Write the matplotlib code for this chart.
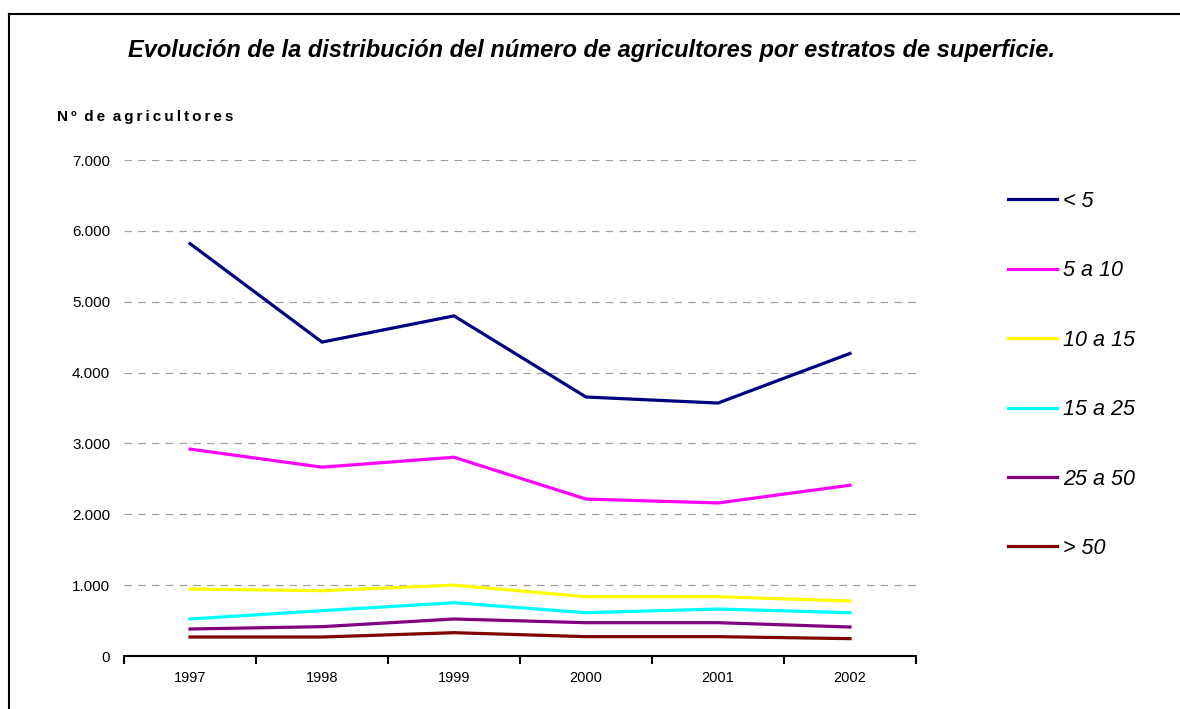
import matplotlib
matplotlib.use('Agg')
import matplotlib.pyplot as plt
from matplotlib.lines import Line2D
from matplotlib.ticker import FuncFormatter

plt.rcParams['font.family'] = ['Liberation Sans', 'DejaVu Sans']

years = ['1997', '1998', '1999', '2000', '2001', '2002']
labels = ['< 5', '5 a 10', '10 a 15', '15 a 25', '25 a 50', '> 50']
colours = ['#000080', '#FF00FF', '#FFFF00', '#00FFFF', '#800080', '#800000']

menos_5 = [5820, 4430, 4800, 3655, 3570, 4270]
de_5_a_10 = [2920, 2665, 2805, 2215, 2160, 2410]
de_10_a_15 = [945, 922, 1000, 837, 837, 776]
de_15_a_25 = [522, 640, 752, 611, 663, 611]
de_25_a_50 = [381, 414, 522, 470, 470, 409]
mas_50 = [268, 268, 329, 273, 273, 245]

series = [menos_5, de_5_a_10, de_10_a_15, de_15_a_25, de_25_a_50, mas_50]

fig = plt.figure(figsize=(11.8, 7.09), dpi=100)
ax = fig.add_axes([124/1180, 1-656/709, 792/1180, (656-160)/709])

x = list(range(len(years)))
for vals, lbl, clr in zip(series, labels, colours):
    ax.plot(x, vals, color=clr, lw=2.3, label=lbl, solid_joinstyle='miter')

ax.set_xlim(-0.5, 5.5)
ax.set_ylim(0, 7000)
ax.set_yticks(range(0, 7001, 1000))
ax.yaxis.set_major_formatter(FuncFormatter(lambda v, p: f'{int(v):,}'.replace(',', '.')))
ax.yaxis.grid(True, color='#a0a0a0', ls=(0, (6, 5)), lw=0.9)
ax.set_axisbelow(True)

ax.set_xticks([i - 0.5 for i in range(7)])
ax.set_xticklabels([])
ax.set_xticks(x, minor=True)
ax.set_xticklabels(years, minor=True)
ax.tick_params(axis='x', which='major', direction='out', length=6, width=1.5, color='black')
ax.tick_params(axis='x', which='minor', length=0, pad=11, labelsize=10.5)
ax.tick_params(axis='y', length=0, pad=10, labelsize=11)

for s in ['top', 'right', 'left']:
    ax.spines[s].set_visible(False)
ax.spines['bottom'].set_linewidth(1.5)

fig.text(591/1180, 1-51/709, 'Evolución de la distribución del número de agricultores por estratos de superficie.',
         ha='center', va='center', fontsize=17, fontweight='bold', fontstyle='italic')

ylab = 'Nº de agricultores'
ylab = '\u2002'.join('\u2009'.join(w) for w in ylab.split(' '))
fig.text(57/1180, 1-117/709, ylab, ha='left', va='center', fontsize=11, fontweight='bold')

fig.legend(loc='upper left', bbox_to_anchor=(997/1180, 1-180/709), frameon=False,
           prop={'style': 'italic', 'size': 15.5}, labelspacing=2.25,
           handlelength=2.28, handletextpad=0.3, borderpad=0)

# marco del gráfico
fig.add_artist(Line2D([9/1180, 9/1180], [0, 1-14/709], color='black', lw=1.5))
fig.add_artist(Line2D([9/1180, 1], [1-14/709, 1-14/709], color='black', lw=1.5))

fig.savefig('out.png', dpi=100)
